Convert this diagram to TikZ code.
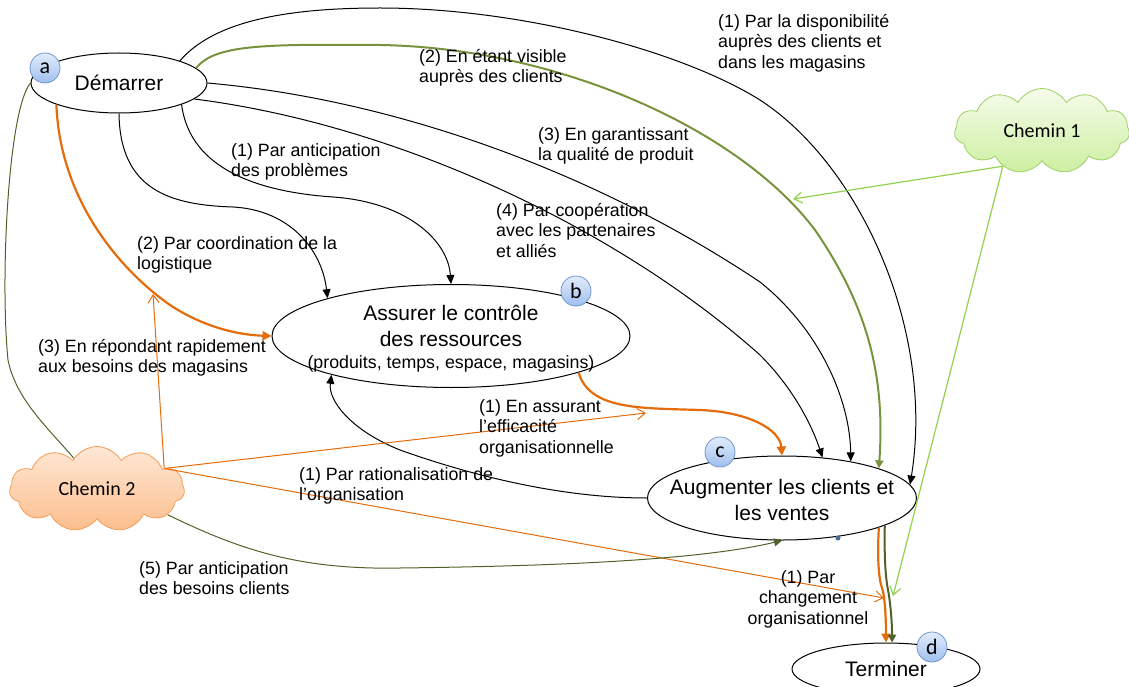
\documentclass[tikz,border=0pt]{standalone}
\usepackage{fontspec}
\setmainfont{Liberation Sans}
\newfontfamily\calibri{Carlito}
\usetikzlibrary{arrows.meta,shapes.geometric,shapes.symbols}
\definecolor{orangeline}{HTML}{E46C0A}
\definecolor{greenline}{HTML}{77933C}
\definecolor{oliveline}{HTML}{4F6228}
\definecolor{limeline}{HTML}{92D050}
\definecolor{badgetop}{HTML}{E3EDFB}
\definecolor{badgebot}{HTML}{9EBFEE}
\definecolor{badgeline}{HTML}{6F97D2}
\definecolor{cloudAtop}{HTML}{F5FCEB}
\definecolor{cloudAbot}{HTML}{CDEFA0}
\definecolor{cloudAline}{HTML}{A0CF67}
\definecolor{cloudBtop}{HTML}{FEE8D6}
\definecolor{cloudBbot}{HTML}{FCBE8C}
\definecolor{cloudBline}{HTML}{F59D56}

\begin{document}
\begin{tikzpicture}[x=1pt,y=-1pt,every node/.style={align=center},
  oval/.style={draw,ellipse,fill=white,inner sep=0pt,line width=1pt,font=\fontsize{21}{26}\selectfont},
  ovaltext/.style={inner sep=0pt,font=\fontsize{21}{26}\selectfont},
  lbl/.style={anchor=north west,inner sep=0pt,align=left,font=\fontsize{17.8}{20.5}\selectfont},
  badge/.style={circle,draw=badgeline,line width=0.8pt,top color=badgetop,bottom color=badgebot,minimum size=30pt,inner sep=0pt,font=\calibri\fontsize{22}{22}\selectfont},
  cloudy/.style={cloud,cloud puffs=11,cloud puff arc=120,cloud ignores aspect,minimum width=175pt,minimum height=85pt,line width=0.8pt,font=\calibri\fontsize{20}{20}\selectfont},
  blk/.style={line width=1pt,-{Triangle[length=9pt,width=8pt]}},
  orgthick/.style={orangeline,line width=2.2pt,-{Triangle[length=9pt,width=9pt]}},
  orgthin/.style={orangeline,line width=1pt,-{Straight Barb[length=8pt,width=11pt]}},
  grnthick/.style={greenline,line width=2pt,-{Triangle[length=8pt,width=8pt]}},
  olvthin/.style={oliveline,line width=1pt},
  olvthick/.style={oliveline,line width=2pt,-{Triangle[length=8pt,width=8pt]}},
  limethin/.style={limeline,line width=1.2pt,-{Straight Barb[length=8pt,width=11pt]}}]
\useasboundingbox (0,0) rectangle (1129,687);

% ovals
\node[oval,minimum width=176pt,minimum height=60pt] (start) at (119,83) {Démarrer};
\node[oval,minimum width=358pt,minimum height=103pt] (ctrl) at (451,336) {};
\node[ovaltext] (ctrltext) at (451,339) {Assurer le contrôle\\des ressources\\[-4pt]{\fontsize{17.8}{21}\selectfont (produits, temps, espace, magasins)}};
\node[oval,minimum width=269pt,minimum height=84pt] (grow) at (782,498) {};
\node[ovaltext] (growtext) at (782,500) {Augmenter les clients et\\les ventes};
\node[oval,minimum width=188pt,minimum height=52pt] (stop) at (886,669) {Terminer};

% clouds
\node[cloudy,draw=cloudAline,top color=cloudAtop,bottom color=cloudAbot] (path1) at (1042,131) {Chemin 1};
\node[cloudy,draw=cloudBline,top color=cloudBtop,bottom color=cloudBbot] (path2) at (97,489) {Chemin 2};

% from Démarrer
\draw[blk] (start.20) .. controls (215,20) and (290,8) .. (380,8) .. controls (520,8) and (680,50) .. (760,100) .. controls (860,165) and (935,330) .. (grow.6);
\draw[grnthick] (start.11) .. controls (215,45) and (260,44) .. (380,45) .. controls (560,48) and (740,130) .. (815,230) .. controls (870,310) and (885,380) .. (grow.17);
\draw[blk] (start.0) .. controls (400,100) and (600,175) .. (760,282) .. controls (820,330) and (850,400) .. (grow.28);
\draw[blk] (start.-12) .. controls (400,125) and (620,230) .. (760,355) .. controls (790,385) and (810,420) .. (grow.45);
\draw[blk] (start.-19.5) .. controls (190,170) and (260,192) .. (333,197) .. controls (406,202) and (448,240) .. (ctrl.north);
\draw[blk] (start.south) .. controls (120,190) and (170,205) .. (233,207) .. controls (290,210) and (322,250) .. (ctrl.163);
\draw[orgthick] (start.199.5) .. controls (60,200) and (120,270) .. (170,305) .. controls (205,328) and (240,335) .. (ctrl.west);
\draw[olvthin] (start.west) .. controls (8,110) and (0,280) .. (8,360) .. controls (16,400) and (50,430) .. (path2.127);

% between the ovals
\draw[blk] (grow.west) .. controls (560,498) and (470,475) .. (400,450) .. controls (350,430) and (328,400) .. (ctrl.198);
\draw[orgthick] (ctrl.-16) .. controls (590,410) and (640,408) .. (700,410) .. controls (750,412) and (780,430) .. (grow.north);
\draw[orgthick] (grow.-17.4) .. controls (877,560) and (879,580) .. (882,588) .. controls (885,596) and (886,620) .. (stop.north);
\draw[olvthick] (grow.-15) .. controls (884,560) and (886,580) .. (888,590) .. controls (890,600) and (892,620) .. (stop.77);

% from the clouds
\coordinate (hitA) at (153,294);
\coordinate (hitB) at (646,413);
\coordinate (hitC) at (884,598);
\coordinate (hitD) at (893,596);
\coordinate (hitE) at (793,199);
\draw[orgthin] (path2.17) -- (hitA);
\draw[orgthin] (path2.17) -- (hitB);
\draw[orgthin] (path2.17) -- (hitC);
\draw[olvthin,-{Triangle[length=8pt,width=8pt]}] (path2.-20) .. controls (240,550) and (300,570) .. (400,568) .. controls (560,566) and (700,560) .. (grow.south);
\draw[limethin] (path1.222) -- (hitD);
\draw[limethin] (path1.222) -- (hitE);
\fill[badgeline!70!black] (838,538) circle (2.5);

% badges
\node[badge] (tagA) at (45,68) {a};
\node[badge] (tagB) at (576,291) {b};
\node[badge] (tagC) at (720,452) {c};
\node[badge] (tagD) at (932,647) {d};

% labels
\node[lbl] (lab1) at (718,14) {(1) Par la disponibilité\\auprès des clients et\\dans les magasins};
\node[lbl] (lab2) at (419,49) {(2) En étant visible\\auprès des clients};
\node[lbl] (lab3) at (538,127) {(3) En garantissant\\la qualité de produit};
\node[lbl] (lab4) at (496,203) {(4) Par coopération\\avec les partenaires\\et alliés};
\node[lbl] (lab5) at (231,143) {(1) Par anticipation\\des problèmes};
\node[lbl] (lab6) at (137,236) {(2) Par coordination de la\\logistique};
\node[lbl] (lab7) at (38,339) {(3) En répondant rapidement\\aux besoins des magasins};
\node[lbl] (lab8) at (479,399) {(1) En assurant\\l’efficacité\\organisationnelle};
\node[lbl] (lab9) at (299,467) {(1) Par rationalisation de\\l’organisation};
\node[lbl] (lab10) at (139,561) {(5) Par anticipation\\des besoins clients};
\node[lbl,anchor=north,align=center] (lab11) at (808,570) {(1) Par\\changement\\organisationnel};
\end{tikzpicture}
\end{document}
